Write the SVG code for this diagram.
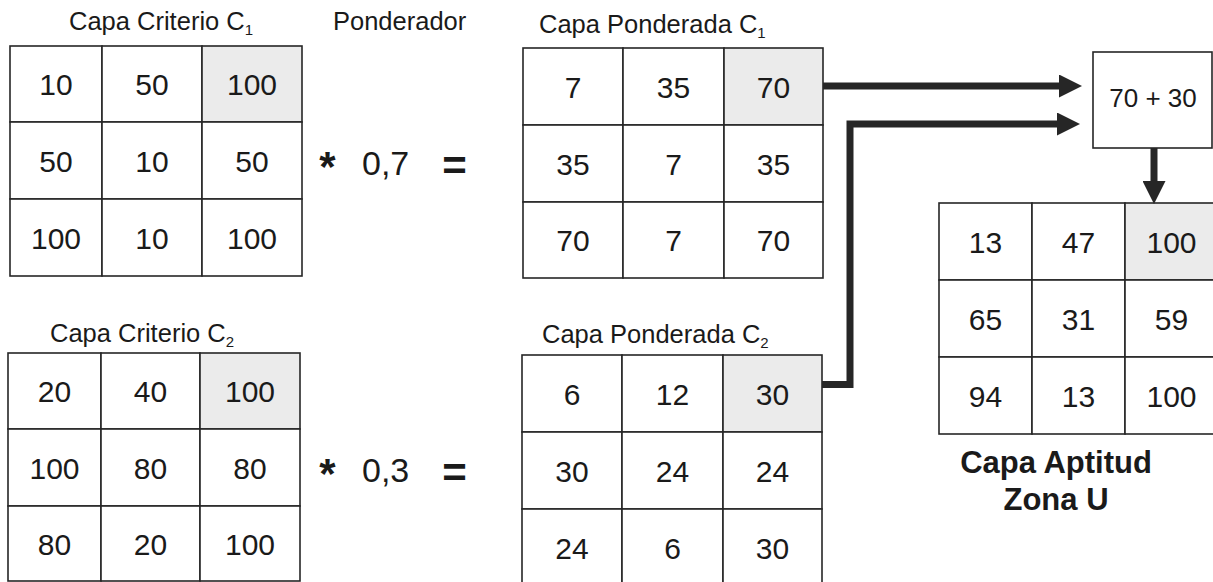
<svg xmlns="http://www.w3.org/2000/svg" width="1213" height="582" viewBox="0 0 1213 582">
<style>
  text { font-family: "Liberation Sans", Arial, sans-serif; fill: #1a1a1a; }
  .cell { fill: #ffffff; stroke: #262626; stroke-width: 1.6; }
  .shade { fill: #ebebeb; stroke: #262626; stroke-width: 1.6; }
  .num { font-size: 30px; text-anchor: middle; }
  .title { font-size: 25.5px; }
  .sub { font-size: 15px; }
  .op { font-size: 34px; }
  .sym { font-size: 42px; font-weight: bold; text-anchor: middle; }
  .big { font-size: 31px; font-weight: bold; text-anchor: middle; }
  .conn { fill: none; stroke: #262626; stroke-width: 7; stroke-linejoin: miter; marker-end: url(#ah); }
</style>
<defs>
  <marker id="ah" markerUnits="userSpaceOnUse" markerWidth="23" markerHeight="23" refX="0" refY="11.5" orient="auto">
    <path d="M0,0 L23,11.5 L0,23 Z" fill="#262626"/>
  </marker>
</defs>
<rect width="1213" height="582" fill="#ffffff"/>

<g id="labels">
  <text class="title" x="69" y="30">Capa Criterio C<tspan class="sub" dy="5">1</tspan></text>
  <text class="title" x="333" y="30" font-size="25">Ponderador</text>
  <text class="title" x="539" y="33">Capa Ponderada C<tspan class="sub" dy="5">1</tspan></text>
  <text class="title" x="50" y="342">Capa Criterio C<tspan class="sub" dy="5">2</tspan></text>
  <text class="title" x="542" y="343">Capa Ponderada C<tspan class="sub" dy="5">2</tspan></text>
</g>

<g id="grid-criterio-c1">
  <rect class="cell" x="10" y="46" width="92" height="76"/>
  <rect class="cell" x="102" y="46" width="100" height="76"/>
  <rect class="shade" x="202" y="46" width="100" height="76"/>
  <rect class="cell" x="10" y="122" width="92" height="77"/>
  <rect class="cell" x="102" y="122" width="100" height="77"/>
  <rect class="cell" x="202" y="122" width="100" height="77"/>
  <rect class="cell" x="10" y="199" width="92" height="77"/>
  <rect class="cell" x="102" y="199" width="100" height="77"/>
  <rect class="cell" x="202" y="199" width="100" height="77"/>
  <text class="num" x="56" y="95">10</text>
  <text class="num" x="152" y="95">50</text>
  <text class="num" x="252" y="95">100</text>
  <text class="num" x="56" y="171.5">50</text>
  <text class="num" x="152" y="171.5">10</text>
  <text class="num" x="252" y="171.5">50</text>
  <text class="num" x="56" y="248.5">100</text>
  <text class="num" x="152" y="248.5">10</text>
  <text class="num" x="252" y="248.5">100</text>
</g>

<g id="op-c1">
  <text class="sym" x="327.5" y="181">*</text>
  <text class="op" x="362" y="175">0,7</text>
  <text class="sym" x="454.5" y="180" font-size="38">=</text>
</g>

<g id="grid-criterio-c2">
  <rect class="cell" x="8" y="353" width="93" height="76"/>
  <rect class="cell" x="101" y="353" width="99" height="76"/>
  <rect class="shade" x="200" y="353" width="100" height="76"/>
  <rect class="cell" x="8" y="429" width="93" height="77"/>
  <rect class="cell" x="101" y="429" width="99" height="77"/>
  <rect class="cell" x="200" y="429" width="100" height="77"/>
  <rect class="cell" x="8" y="506" width="93" height="75"/>
  <rect class="cell" x="101" y="506" width="99" height="75"/>
  <rect class="cell" x="200" y="506" width="100" height="75"/>
  <text class="num" x="54.5" y="402">20</text>
  <text class="num" x="150.5" y="402">40</text>
  <text class="num" x="250" y="402">100</text>
  <text class="num" x="54.5" y="478.5">100</text>
  <text class="num" x="150.5" y="478.5">80</text>
  <text class="num" x="250" y="478.5">80</text>
  <text class="num" x="54.5" y="554.5">80</text>
  <text class="num" x="150.5" y="554.5">20</text>
  <text class="num" x="250" y="554.5">100</text>
</g>

<g id="op-c2">
  <text class="sym" x="327.5" y="488">*</text>
  <text class="op" x="362" y="482">0,3</text>
  <text class="sym" x="454.5" y="487" font-size="38">=</text>
</g>

<g id="grid-ponderada-c1">
  <rect class="cell" x="523" y="48" width="100" height="77"/>
  <rect class="cell" x="623" y="48" width="101" height="77"/>
  <rect class="shade" x="724" y="48" width="99" height="77"/>
  <rect class="cell" x="523" y="125" width="100" height="77"/>
  <rect class="cell" x="623" y="125" width="101" height="77"/>
  <rect class="cell" x="724" y="125" width="99" height="77"/>
  <rect class="cell" x="523" y="202" width="100" height="76"/>
  <rect class="cell" x="623" y="202" width="101" height="76"/>
  <rect class="cell" x="724" y="202" width="99" height="76"/>
  <text class="num" x="573" y="97.5">7</text>
  <text class="num" x="673.5" y="97.5">35</text>
  <text class="num" x="773.5" y="97.5">70</text>
  <text class="num" x="573" y="174.5">35</text>
  <text class="num" x="673.5" y="174.5">7</text>
  <text class="num" x="773.5" y="174.5">35</text>
  <text class="num" x="573" y="251">70</text>
  <text class="num" x="673.5" y="251">7</text>
  <text class="num" x="773.5" y="251">70</text>
</g>

<g id="grid-ponderada-c2">
  <rect class="cell" x="522" y="355" width="100" height="77"/>
  <rect class="cell" x="622" y="355" width="101" height="77"/>
  <rect class="shade" x="723" y="355" width="99" height="77"/>
  <rect class="cell" x="522" y="432" width="100" height="77"/>
  <rect class="cell" x="622" y="432" width="101" height="77"/>
  <rect class="cell" x="723" y="432" width="99" height="77"/>
  <rect class="cell" x="522" y="509" width="100" height="77"/>
  <rect class="cell" x="622" y="509" width="101" height="77"/>
  <rect class="cell" x="723" y="509" width="99" height="77"/>
  <text class="num" x="572" y="404.5">6</text>
  <text class="num" x="672.5" y="404.5">12</text>
  <text class="num" x="772.5" y="404.5">30</text>
  <text class="num" x="572" y="481.5">30</text>
  <text class="num" x="672.5" y="481.5">24</text>
  <text class="num" x="772.5" y="481.5">24</text>
  <text class="num" x="572" y="558.5">24</text>
  <text class="num" x="672.5" y="558.5">6</text>
  <text class="num" x="772.5" y="558.5">30</text>
</g>

<g id="sum-box">
  <rect class="cell" x="1093" y="52" width="119" height="96"/>
  <text x="1153" y="107" font-size="26" text-anchor="middle">70 + 30</text>
</g>

<g id="grid-aptitud">
  <rect class="cell" x="939" y="203" width="93" height="77"/>
  <rect class="cell" x="1032" y="203" width="93" height="77"/>
  <rect class="shade" x="1125" y="203" width="93" height="77"/>
  <rect class="cell" x="939" y="280" width="93" height="77"/>
  <rect class="cell" x="1032" y="280" width="93" height="77"/>
  <rect class="cell" x="1125" y="280" width="93" height="77"/>
  <rect class="cell" x="939" y="357" width="93" height="77"/>
  <rect class="cell" x="1032" y="357" width="93" height="77"/>
  <rect class="cell" x="1125" y="357" width="93" height="77"/>
  <text class="num" x="985.5" y="252.5">13</text>
  <text class="num" x="1078.5" y="252.5">47</text>
  <text class="num" x="1171.5" y="252.5">100</text>
  <text class="num" x="985.5" y="329.5">65</text>
  <text class="num" x="1078.5" y="329.5">31</text>
  <text class="num" x="1171.5" y="329.5">59</text>
  <text class="num" x="985.5" y="406.5">94</text>
  <text class="num" x="1078.5" y="406.5">13</text>
  <text class="num" x="1171.5" y="406.5">100</text>
  <text class="big" x="1056" y="473">Capa Aptitud</text>
  <text class="big" x="1056" y="510">Zona U</text>
</g>

<g id="connectors">
  <path class="conn" d="M823,86 H1059"/>
  <path class="conn" d="M822,384.5 H850 V124 H1057"/>
  <path class="conn" d="M1154,148 V181"/>
</g>
</svg>
